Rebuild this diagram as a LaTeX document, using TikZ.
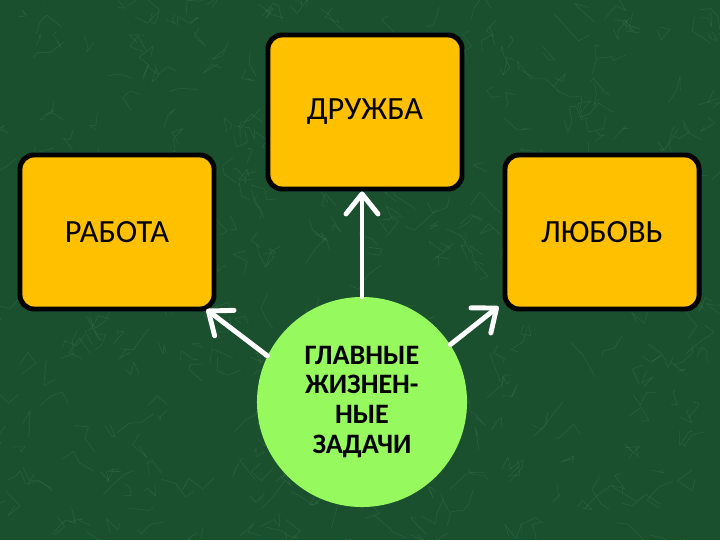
\documentclass[tikz,border=0pt]{standalone}
\usepackage{fontspec}
\setmainfont{Carlito}
\usetikzlibrary{arrows.meta}
\definecolor{fond}{RGB}{27,80,46}
\definecolor{veine}{RGB}{100,170,120}
\definecolor{cadre}{RGB}{255,192,0}
\definecolor{disque}{RGB}{150,250,95}

\begin{document}
\begin{tikzpicture}[x=0.025cm,y=-0.025cm,
  boite/.style={draw=black,fill=cadre,line width=3.5pt,rounded corners=10pt,minimum width=4.85cm,minimum height=3.85cm,font=\fontsize{23}{27}\selectfont},
  fleche/.style={draw=white,line width=3.5pt,line cap=round,-{Straight Barb[length=0.5cm,width=0.8cm,round]}}]
\fill[fond] (0,0) rectangle (720,540);
\useasboundingbox (0,0) rectangle (720,540);
% fond marbre
\pgfmathsetseed{7}
\foreach \i in {1,...,450}{
  \draw[veine,opacity=0.18,line width=0.4pt,line join=round] (rnd*720,rnd*540) -- ++(rnd*30-15,rnd*30-15) -- ++(rnd*30-15,rnd*30-15) -- ++(rnd*30-15,rnd*30-15);
}
\node[boite] (amitie) at (365,112) {ДРУЖБА};
\node[boite] (travail) at (117,232) {РАБОТА};
\node[boite] (amour) at (602,232) {ЛЮБОВЬ};
\node[circle,fill=disque,minimum size=5.25cm,align=center,font=\bfseries\fontsize{20}{21.3}\selectfont] (but) at (362,402) {ГЛАВНЫЕ\\ЖИЗНЕН-\\НЫЕ\\ЗАДАЧИ};
\draw[fleche] (but.north) -- (but.north |- amitie.south);
\draw[fleche] (but.154) -- ([shift={(-10,-2)}]travail.south east);
\draw[fleche] (but.33) -- ([shift={(-4,-5)}]amour.south west);
\end{tikzpicture}
\end{document}
